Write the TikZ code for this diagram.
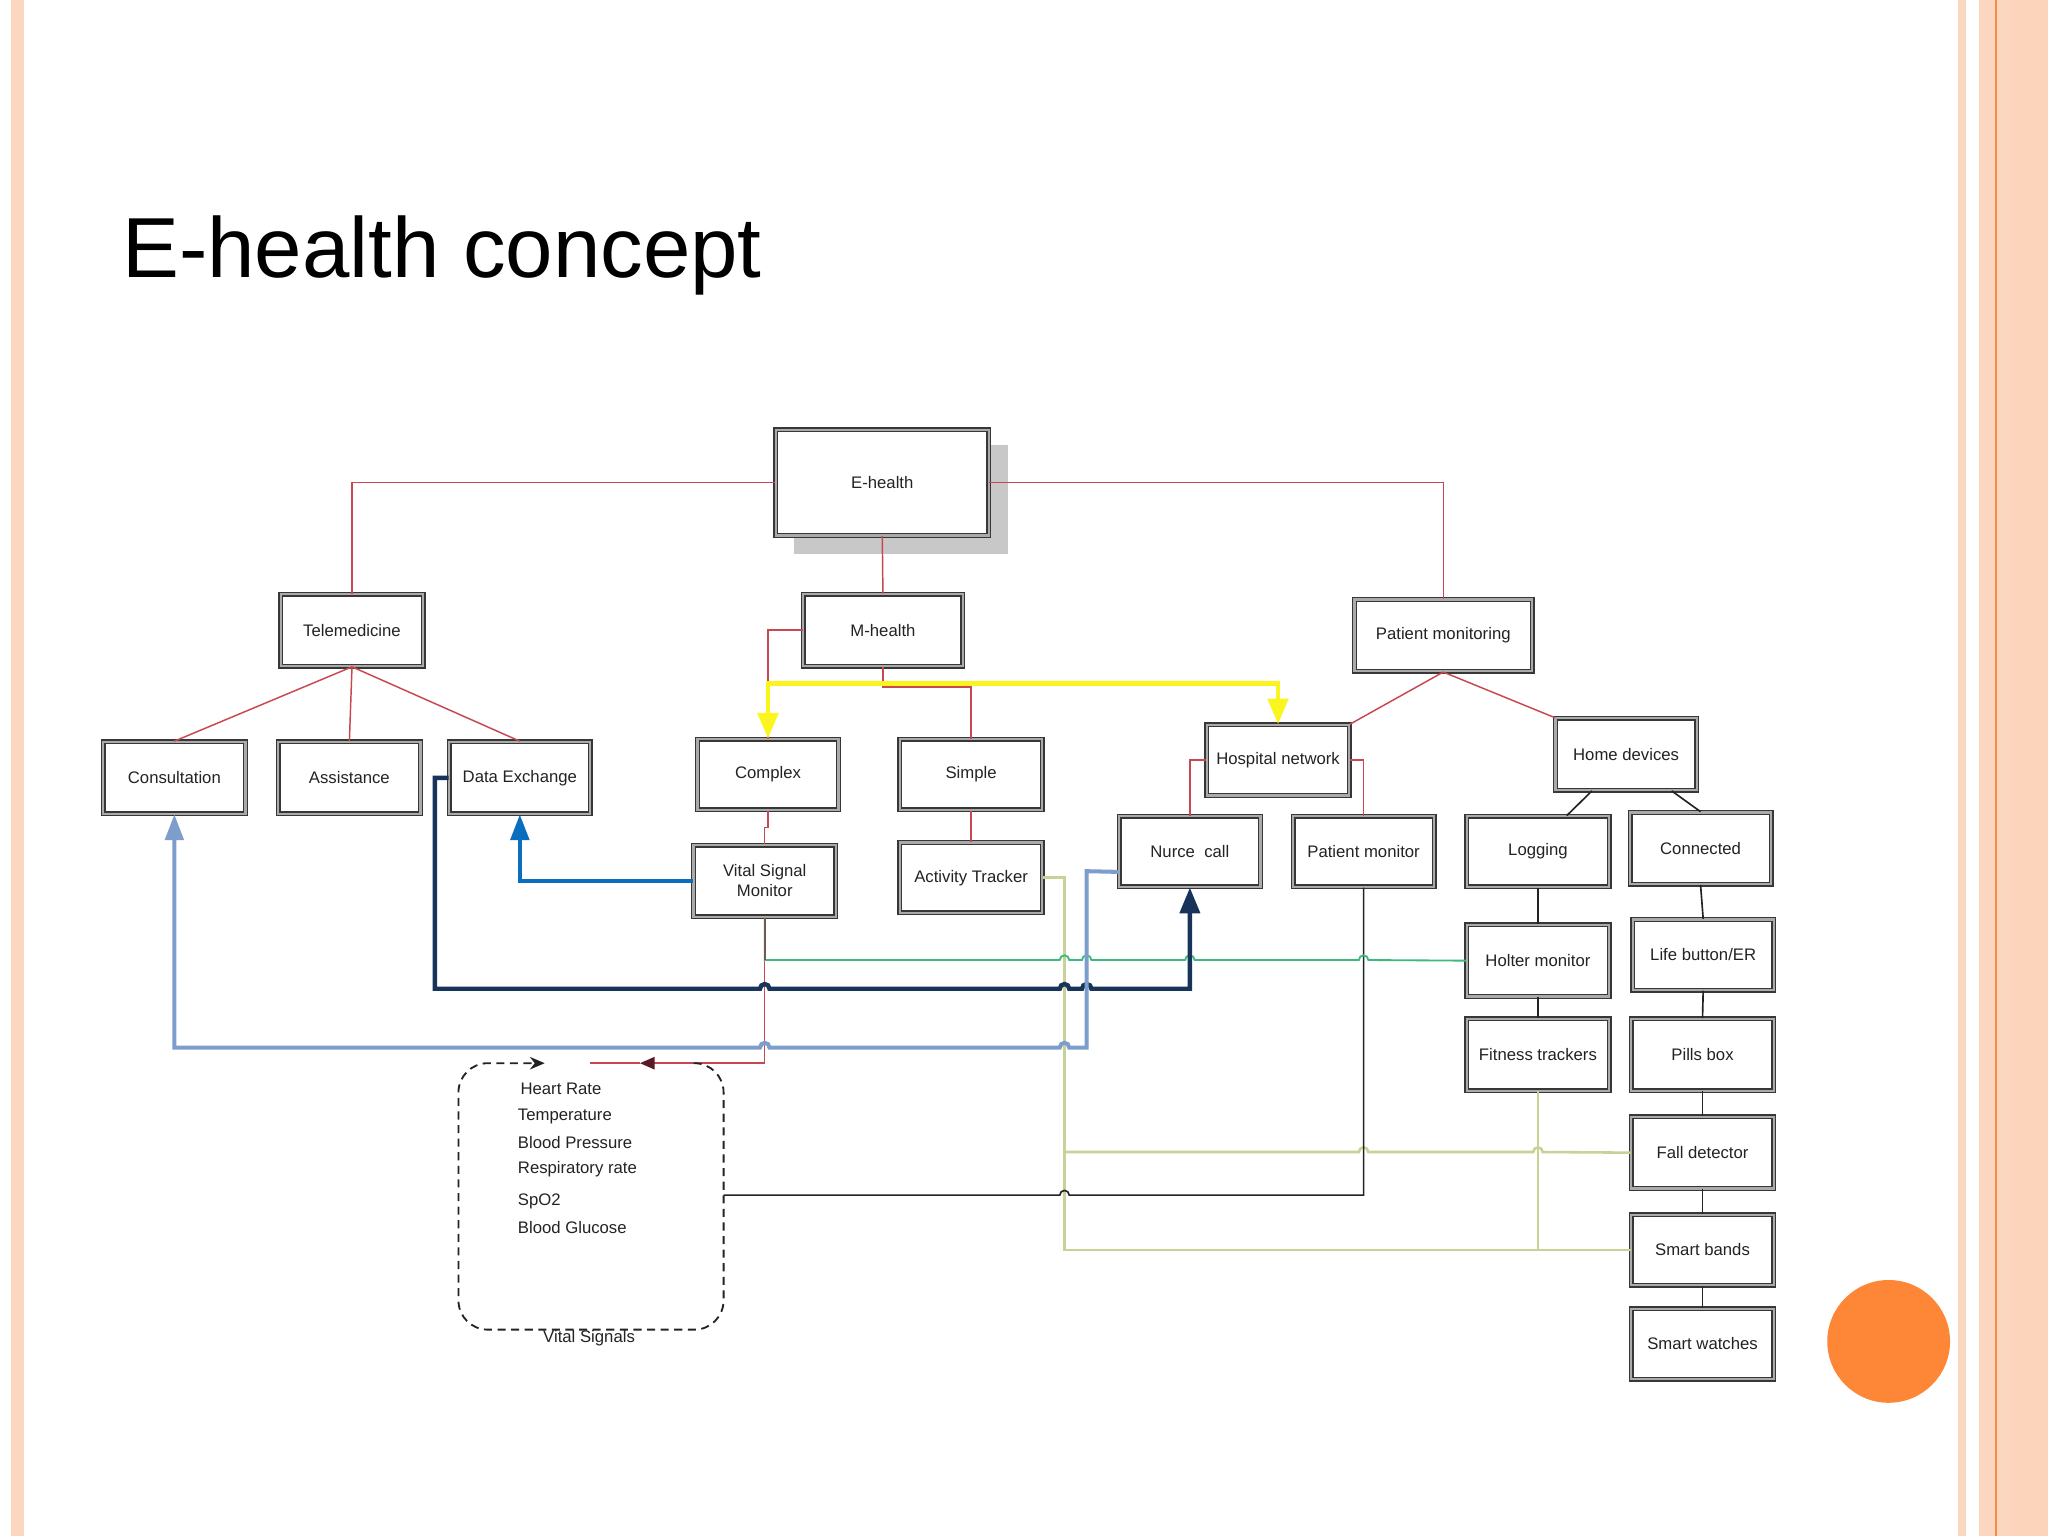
\documentclass[tikz,border=0pt]{standalone}
\usepackage{fontspec}
\setmainfont{Liberation Sans}
\usetikzlibrary{arrows.meta,calc}

\definecolor{peach}{RGB}{252,215,192}
\definecolor{peachb}{RGB}{252,212,188}
\definecolor{orline}{RGB}{245,140,70}
\definecolor{orcirc}{RGB}{253,135,55}
\definecolor{redc}{RGB}{200,72,82}
\definecolor{yelc}{RGB}{250,245,30}
\definecolor{navyc}{RGB}{25,52,90}
\definecolor{bluec}{RGB}{10,110,190}
\definecolor{lbluec}{RGB}{125,158,205}
\definecolor{grnc}{RGB}{60,185,125}
\definecolor{khkc}{RGB}{200,210,150}
\definecolor{blkc}{RGB}{35,35,35}
\definecolor{boxc}{RGB}{55,55,55}
\definecolor{boxd}{RGB}{170,170,170}
\definecolor{textc}{RGB}{35,35,35}
\definecolor{shadc}{RGB}{200,200,200}
\definecolor{brnc}{RGB}{110,90,80}
\definecolor{maroonc}{RGB}{90,25,35}

\newcommand\bx[6]{\node[ebox, minimum width={(#4-#2)*0.0125cm}, minimum height={(#5-#3)*0.0125cm}] (#1) at ({(#2+#4)/2},{(#3+#5)/2}) {#6};}
\newcommand\hopR[2]{-- ({#1-3.6},#2) arc[start angle=180,end angle=360,radius=3.6]}
\newcommand\hopL[2]{-- ({#1+3.6},#2) arc[start angle=0,end angle=-180,radius=3.6]}

\begin{document}
\begin{tikzpicture}[x=0.0125cm,y=-0.0125cm,
  ebox/.style={draw=boxc, double=boxd, line width=0.38pt, double distance=0.6pt, fill=white, inner sep=1pt, text=textc, font=\fontsize{4.55}{5.45}\selectfont, align=center},
  redl/.style={draw=redc, line width=0.4pt},
  yel/.style={draw=yelc, line width=1.3pt, {Triangle[length=7pt,width=5.5pt]}-{Triangle[length=7pt,width=5.5pt]}},
  navyl/.style={draw=navyc, line width=1.2pt},
  bluel/.style={draw=bluec, line width=1.2pt},
  lbll/.style={draw=lbluec, line width=1.1pt},
  grn/.style={draw=grnc, line width=0.5pt},
  khk/.style={draw=khkc, line width=0.7pt},
  blkl/.style={draw=blkc, line width=0.45pt},
  vtxt/.style={anchor=west, inner sep=0pt, text=textc, font=\fontsize{4.55}{5.45}\selectfont}
]
\useasboundingbox (0,0) rectangle (1568,1176);
% background and slide decoration
\fill[white] (0,0) rectangle (1568,1176);
\fill[peach] (8.4,0) rectangle (18.4,1176);
\fill[peach] (1499.4,0) rectangle (1505,1176);
\fill[peach] (1515.4,0) rectangle (1568,1176);
\fill[peachb] (1540.3,0) rectangle (1568,1176);
\fill[orline] (1527.5,0) rectangle (1529.3,1176);
\fill[orcirc] (1446,1027) circle[radius=47];

\node[anchor=base west, inner sep=0pt, font=\fontsize{23.2}{28}\selectfont] (title) at (93,212.6) {E-health concept};

% boxes
\fill[shadc] (608,341) rectangle (772,424);
\bx{eh}{594}{329}{757}{410}{E-health}
\bx{tele}{215}{455}{324}{510}{Telemedicine}
\bx{mh}{615}{455}{737}{510}{M-health}
\bx{pmon}{1037}{459}{1173}{514}{Patient monitoring}
\bx{cons}{79}{568}{188}{623}{Consultation}
\bx{ass}{213}{568}{322}{623}{Assistance}
\bx{dx}{344}{568}{452}{623}{Data Exchange}
\bx{cplx}{534}{566}{642}{620}{Complex}
\bx{simp}{689}{566}{798}{620}{Simple}
\bx{vsm}{531}{647}{640}{702}{Vital Signal\\Monitor}
\bx{act}{689}{645}{798}{699}{Activity Tracker}
\bx{hosp}{924}{555}{1033}{609}{Hospital network}
\bx{hd}{1191}{550}{1299}{605}{Home devices}
\bx{nurse}{857}{625}{965}{679}{Nurce~~call}
\bx{pmonit}{990}{625}{1098}{679}{Patient monitor}
\bx{logg}{1123}{625}{1232}{679}{Logging}
\bx{con}{1248}{622}{1356}{677}{Connected}
\bx{hol}{1123}{708}{1232}{763}{Holter monitor}
\bx{life}{1250}{704}{1358}{758}{Life button/ER}
\bx{fitn}{1123}{780}{1232}{835}{Fitness trackers}
\bx{pill}{1249}{780}{1358}{835}{Pills box}
\bx{fall}{1249}{855}{1358}{910}{Fall detector}
\bx{band}{1249}{930}{1358}{984}{Smart bands}
\bx{watch}{1249}{1002}{1358}{1056}{Smart watches}

% red hierarchy
\draw[redl] (eh.west) -| (tele.north);
\draw[redl] (eh.east) -| (pmon.north);
\draw[redl] (eh.south) -- (mh.north);
\draw[redl] (tele.south) -- (cons.north);
\draw[redl] (tele.south) -- (ass.north);
\draw[redl] (tele.south) -- (dx.north);
\draw[redl] (mh.west) -| (cplx.north);
\coordinate (ms) at (676,526);
\draw[redl] (mh.south) -- (ms) -| (simp.north);
\draw[redl] (cplx.south) -- ++(0,13) -| (vsm.north);
\draw[redl] (simp.south) -- (act.north);
\draw[redl] (pmon.south) -- (hosp.north east);
\draw[redl] (pmon.south) -- (hd.north west);
\draw[redl] (hosp.west) -| (nurse.north);
\draw[redl] (hosp.east) -| (pmonit.north);

% yellow double arrow
\coordinate (yl) at (0,523);
\draw[yel] (cplx.north) -- (cplx.north |- yl) -- (hosp.north |- yl) -- (hosp.north);

% home devices tree
\draw[blkl] ($(hd.south west)!0.26!(hd.south east)$) -- ($(logg.north west)!0.7!(logg.north east)$);
\draw[blkl] ($(hd.south west)!0.82!(hd.south east)$) -- (con.north);
\draw[blkl] (logg.south) -- (hol.north);
\draw[blkl] (hol.south) -- (fitn.north);
\draw[blkl] (con.south) -- (life.north);
\draw[blkl] (life.south) -- (pill.north);
\draw[blkl] (pill.south) -- (fall.north);
\draw[blkl] (fall.south) -- (band.north);
\draw[blkl] (band.south) -- (watch.north);

% khaki lines
\draw[khk] (act.east) -- (815,672) -- (815,957) -- (band.west);
\coordinate (kj) at (815,882);
\draw[khk] (kj) \hopR{1044}{882} \hopR{1177.5}{882} -- (fall.west);
\draw[khk] (fitn.south) -- (fitn.south |- band.west);

% black line to vital signals
\coordinate (vse) at (554,915);
\draw[blkl] (pmonit.south) -- (1044,915) \hopL{815}{915} -- (vse);

% red from VSM to vital signals
\coordinate (va) at (490,814);
\coordinate (vb) at (452,814);
\draw[redl, -{Triangle[length=4pt,width=3.4pt,color=maroonc]}] (vsm.south) |- (va);
\draw[redl] (va) -- (vb);

% green line
\draw[grn] (vsm.south) -- (585.5,735) \hopR{815}{735} \hopR{832}{735} \hopR{911}{735} \hopR{1044}{735} -- (hol.west);
\draw[line width=0.5pt, brnc] (vsm.south) -- (585.5,735);

% navy
\draw[navyl, -{Triangle[length=7pt,width=5.4pt]}] (dx.west) -- (333,595.5) -- (333,757) \hopR{585.5}{757} \hopR{815}{757} \hopR{832}{757} -- (911,757) -- (nurse.south);

% blue
\draw[bluel, -{Triangle[length=7pt,width=5pt]}] (vsm.west) -| (dx.south);

% light blue
\draw[lbll, -{Triangle[length=7pt,width=5pt]}] ($(nurse.south west)+(0,-12)$) -- (832,667) -- (832,802) \hopL{815}{802} \hopL{585.5}{802} -- (133.5,802) -- (cons.south);

% vital signals dashed group
\coordinate (vtr) at (531,814);
\draw[draw=blkc, line width=0.5pt, dash pattern=on 2.2pt off 1.5pt, rounded corners=0.28cm, -{Stealth[length=4pt,width=3.4pt]}] (vtr) -- (554,814) -- (554,1018) -- (351,1018) -- (351,814) -- (417,814);
\node[vtxt] (t1) at (398,834) {Heart Rate};
\node[vtxt] (t2) at (396,854.5) {Temperature};
\node[vtxt] (t3) at (396,875) {Blood Pressure};
\node[vtxt] (t4) at (396,895) {Respiratory rate};
\node[vtxt] (t5) at (396,919.5) {SpO2};
\node[vtxt] (t6) at (396,940) {Blood Glucose};
\node[inner sep=0pt, text=textc, font=\fontsize{4.55}{5.45}\selectfont] (vslab) at (451,1024.5) {Vital Signals};
\end{tikzpicture}
\end{document}
